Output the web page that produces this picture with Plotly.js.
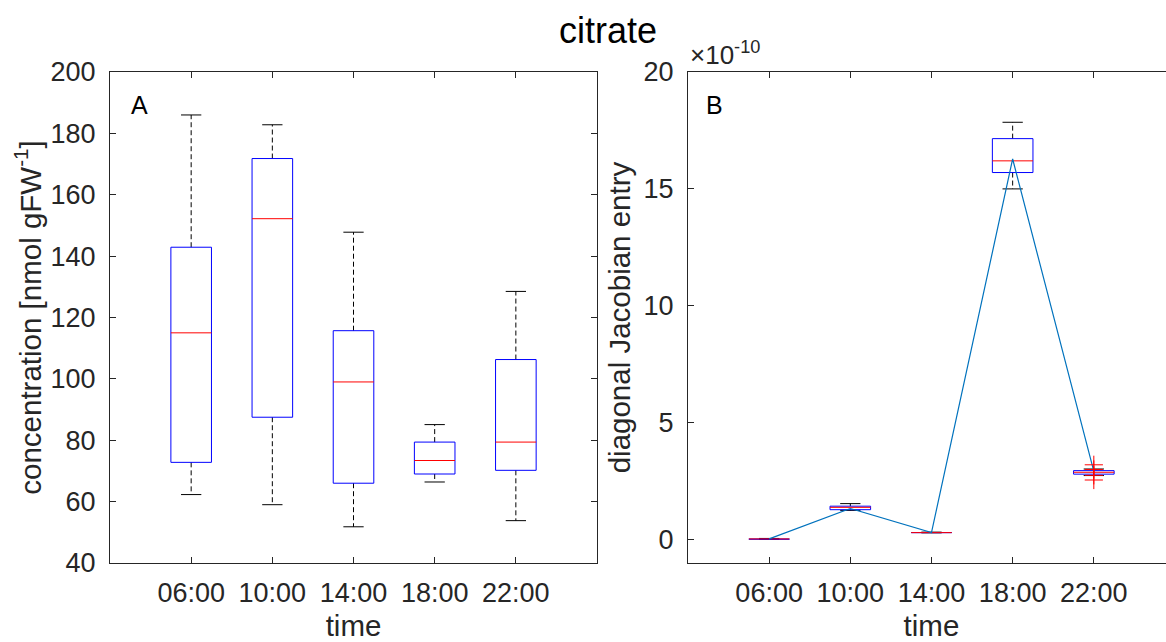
<!DOCTYPE html>
<html><head><meta charset="utf-8">
<script src="https://cdn.plot.ly/plotly-3.0.1.min.js"></script>
<style>html,body{margin:0;padding:0;overflow:hidden;background:#fff}</style>
</head><body><div id="chart" style="width:1180px;height:642px"></div>
<script>
// ---- data ----
const times = ['06:00', '10:00', '14:00', '18:00', '22:00'];
// panel A: concentration [nmol gFW^-1]
const concLowerWhisker = [62.3, 59.0, 51.8, 66.4, 53.8];
const concQ1 = [72.8, 87.5, 66.0, 69.0, 70.2];
const concMedian = [115.0, 152.2, 99.0, 73.4, 79.4];
const concQ3 = [142.9, 171.8, 115.7, 79.4, 106.3];
const concUpperWhisker = [186.0, 182.8, 147.8, 85.1, 128.5];
// panel B: diagonal Jacobian entry (units of 1e-10)
const jacLowerWhisker = [0.01, 1.25, 0.29, 15.0, 2.74];
const jacQ1 = [0.02, 1.28, 0.30, 15.7, 2.80];
const jacMedian = [0.03, 1.38, 0.30, 16.2, 2.88];
const jacQ3 = [0.04, 1.43, 0.31, 17.15, 2.95];
const jacUpperWhisker = [0.05, 1.54, 0.32, 17.85, 3.02];
const jacOutlierTime = ['22:00', '22:00', '22:00', '22:00'];
const jacOutliers = [3.20, 3.00, 2.75, 2.55];
const jacMean = [0.03, 1.33, 0.30, 16.28, 2.92];

// ---- styling ----
const BOX_HALF = 0.25, CAP_HALF = 0.125;
const FONT = 'Liberation Sans, Arial, Helvetica, sans-serif';
const INK = '#262626';

function boxTraces(lw, q1, med, q3, uw, xa, ya) {
  const bx = [], by = [], mx = [], my = [], wx = [], wy = [], cx = [], cy = [];
  times.forEach((t, i) => {
    const p = i + 1;
    bx.push(p - BOX_HALF, p + BOX_HALF, p + BOX_HALF, p - BOX_HALF, p - BOX_HALF, null);
    by.push(q1[i], q1[i], q3[i], q3[i], q1[i], null);
    mx.push(p - BOX_HALF, p + BOX_HALF, null);
    my.push(med[i], med[i], null);
    wx.push(p, p, null, p, p, null);
    wy.push(q3[i], uw[i], null, q1[i], lw[i], null);
    cx.push(p - CAP_HALF, p + CAP_HALF, null, p - CAP_HALF, p + CAP_HALF, null);
    cy.push(uw[i], uw[i], null, lw[i], lw[i], null);
  });
  const common = {type: 'scatter', mode: 'lines', xaxis: xa, yaxis: ya, hoverinfo: 'skip', showlegend: false};
  return [
    Object.assign({x: wx, y: wy, line: {color: '#000', width: 1, dash: '5px,3px'}}, common),
    Object.assign({x: cx, y: cy, line: {color: '#000', width: 1}}, common),
    Object.assign({x: bx, y: by, line: {color: '#0000ff', width: 1}}, common),
    Object.assign({x: mx, y: my, line: {color: '#ff0000', width: 1}}, common)
  ];
}

const traces = []
  .concat(boxTraces(concLowerWhisker, concQ1, concMedian, concQ3, concUpperWhisker, 'x', 'y'))
  .concat(boxTraces(jacLowerWhisker, jacQ1, jacMedian, jacQ3, jacUpperWhisker, 'x2', 'y2'));

traces.push({
  type: 'scatter', mode: 'lines', xaxis: 'x2', yaxis: 'y2', showlegend: false,
  x: times.map((t, i) => i + 1), y: jacMean,
  line: {color: '#0072BD', width: 1.2}
});
traces.push({
  type: 'scatter', mode: 'markers', xaxis: 'x2', yaxis: 'y2', showlegend: false,
  x: jacOutlierTime.map(t => times.indexOf(t) + 1), y: jacOutliers,
  marker: {symbol: 'cross-thin', size: 13, color: '#ff0000', line: {color: '#ff0000', width: 1}}
});

const tickFont = {family: FONT, size: 27, color: INK};
const labelFont = {family: FONT, size: 29.5, color: INK};
function xAxis(domain, anchor) {
  return {
    domain: domain, anchor: anchor, range: [0, 6],
    tickvals: times.map((t, i) => i + 1), ticktext: times,
    ticks: 'inside', ticklen: 6, tickcolor: INK, tickwidth: 1,
    showline: true, linecolor: INK, linewidth: 1, mirror: 'ticks',
    showgrid: false, zeroline: false, tickfont: tickFont, ticklabelstandoff: 6,
    title: {text: 'time', font: labelFont, standoff: 8}
  };
}
function yAxis(range, tickvals, anchor, title, standoff) {
  return {
    anchor: anchor, range: range, tickvals: tickvals,
    ticks: 'inside', ticklen: 6, tickcolor: INK, tickwidth: 1,
    showline: true, linecolor: INK, linewidth: 1, mirror: 'ticks',
    showgrid: false, zeroline: false, tickfont: tickFont, ticklabelstandoff: 8,
    title: {text: title, font: labelFont, standoff: standoff}
  };
}

const layout = {
  width: 1180, height: 642,
  margin: {l: 110, r: 5, t: 72, b: 79},
  paper_bgcolor: '#fff', plot_bgcolor: '#fff',
  font: {family: FONT, color: INK},
  xaxis: xAxis([0, 0.4573], 'y'),
  yaxis: yAxis([40, 200], [40, 60, 80, 100, 120, 140, 160, 180, 200], 'x', 'concentration [nmol gFW<sup>-1</sup>]', 0),
  xaxis2: xAxis([0.5427, 1], 'y2'),
  yaxis2: yAxis([-1, 20], [0, 5, 10, 15, 20], 'x2', 'diagonal Jacobian entry', 4),
  annotations: [
    {text: 'citrate', xref: 'paper', yref: 'paper', x: 0.4676, y: 1.0855, xanchor: 'center', yanchor: 'middle',
     showarrow: false, font: {family: FONT, size: 36, color: '#000'}},
    {text: 'A', xref: 'x domain', yref: 'y domain', x: 0.04, y: 0.932, xanchor: 'left', yanchor: 'middle',
     showarrow: false, font: {family: FONT, size: 25, color: '#000'}},
    {text: 'B', xref: 'x2 domain', yref: 'y2 domain', x: 0.033, y: 0.932, xanchor: 'left', yanchor: 'middle',
     showarrow: false, font: {family: FONT, size: 25, color: '#000'}},
    {text: '×10<sup>-10</sup>', xref: 'x2 domain', yref: 'y2 domain', x: 0.0, y: 1.0, xanchor: 'left', yanchor: 'bottom',
     showarrow: false, font: {family: FONT, size: 26, color: INK}}
  ]
};

Plotly.newPlot('chart', traces, layout, {displayModeBar: false, staticPlot: true});
</script>
</body></html>
